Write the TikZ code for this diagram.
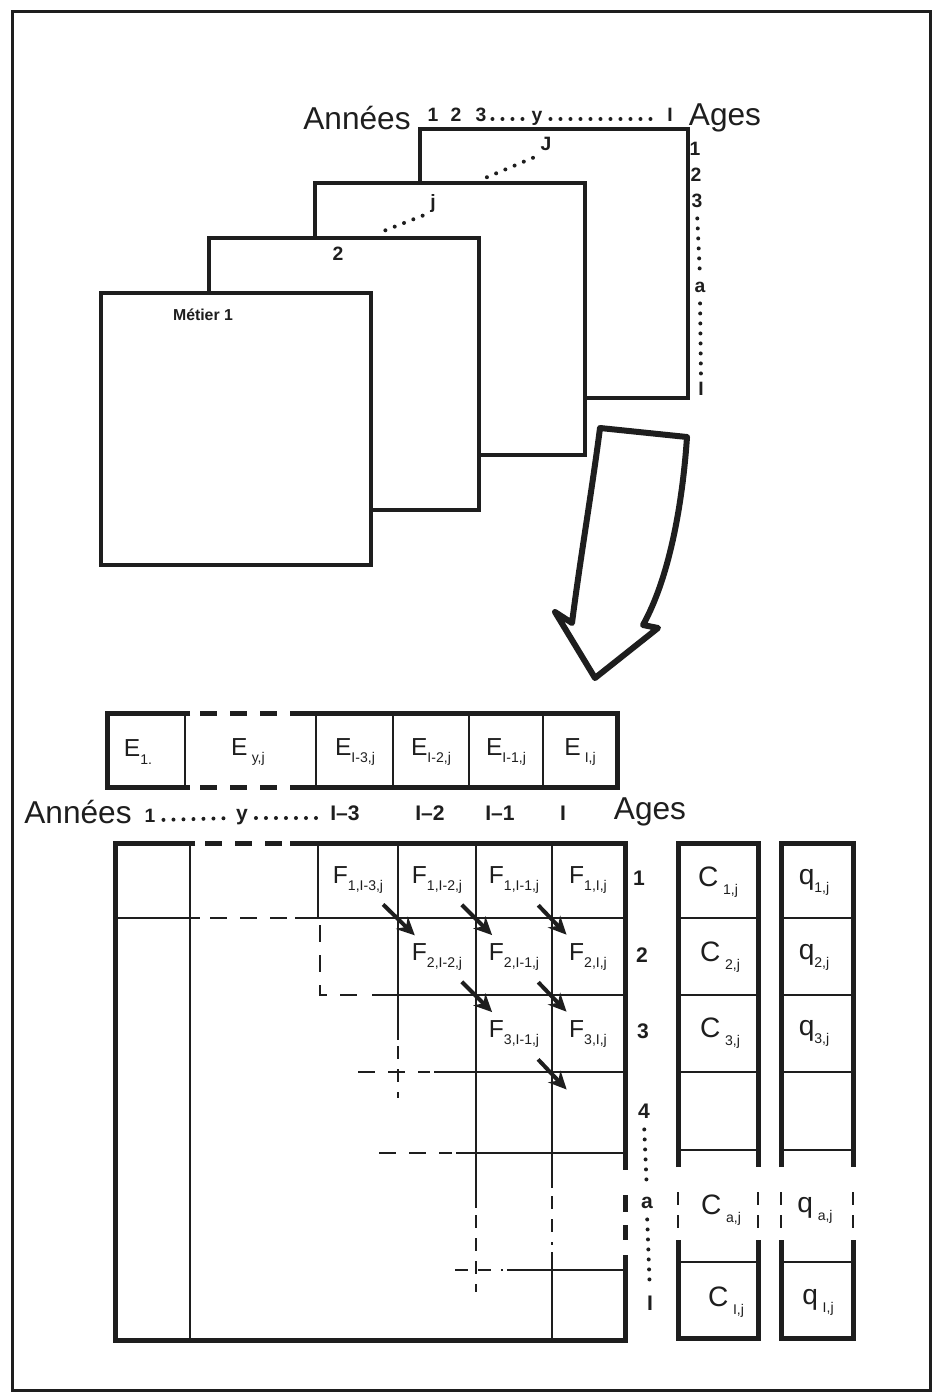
\documentclass[tikz,border=0pt]{standalone}
\usepackage{fontspec}
\setmainfont{Liberation Sans}
\usetikzlibrary{arrows.meta}
\definecolor{inkdark}{HTML}{1E1E1E}
\newcommand{\subidx}[1]{\raisebox{-0.55ex}{\fontsize{8}{8}\selectfont #1}}

\begin{document}
\begin{tikzpicture}[x=0.2mm, y=-0.2mm,
    framebox/.style={draw=inkdark, line width=0.6mm},
    sheet/.style={draw=inkdark, line width=0.65mm, fill=white},
    thickline/.style={draw=inkdark, line width=1mm},
    thinline/.style={draw=inkdark, line width=0.5mm},
    thickdash/.style={draw=inkdark, line width=1mm, dash pattern=on 3.4mm off 2.6mm},
    thindash/.style={draw=inkdark, line width=0.5mm, dash pattern=on 3.4mm off 2.6mm},
    shortdash/.style={draw=inkdark, line width=0.5mm, dash pattern=on 2.6mm off 2mm},
    dotline/.style={draw=inkdark, line width=0.8mm, line cap=round, dash pattern=on 0mm off 2mm,
                    shorten <=1.2mm, shorten >=1.2mm},
    big/.style={inner sep=0pt, text=inkdark, font=\fontsize{18}{20}\selectfont},
    num/.style={inner sep=1pt, text=inkdark, text height=1.5ex, text depth=0.3ex,
                font=\bfseries\fontsize{11}{13}\selectfont},
    numb/.style={inner sep=1pt, text=inkdark, text height=1.5ex, text depth=0.3ex,
                 font=\bfseries\fontsize{12}{14}\selectfont},
    cell/.style={inner sep=0pt, text=inkdark, font=\fontsize{14}{16}\selectfont},
    wide/.style={inner sep=0pt, text=inkdark, font=\fontsize{16}{18}\selectfont},
    flow/.style={draw=inkdark, line width=0.8mm, -{Stealth[length=3.6mm,width=3.4mm]},
                 shorten <=7mm, shorten >=6.2mm},
    bigarrow/.style={draw=inkdark, line width=1.2mm, line join=round, fill=white}]
  \useasboundingbox (0,0) rectangle (948,1395);
  \draw[framebox] (12,12) rectangle (930,1390);

  % stacked sheets
  \draw[sheet] (420,129) rectangle (688,398);
  \draw[sheet] (315,183) rectangle (585,455);
  \draw[sheet] (209,238) rectangle (479,510);
  \draw[sheet] (101,293) rectangle (371,565);
  \node[num, font=\bfseries\fontsize{9}{11}\selectfont] (met) at (203,315) {Métier 1};
  \node[num] (lab2) at (338,255) {2};
  \node[num] (labj) at (433,203) {j};
  \node[num] (labJ) at (546,145) {J};
  \coordinate (jend) at (376,234);
  \coordinate (Jend) at (478,181);
  \draw[dotline] (labj.south west) -- (jend);
  \draw[dotline] (labJ.south west) -- (Jend);

  \node[big] (anT) at (357,118) {Années};
  \node[num] (t1) at (433,116) {1};
  \node[num] (t2) at (456,116) {2};
  \node[num] (t3) at (481,116) {3};
  \node[num] (ty) at (537,116) {y};
  \node[num] (tI) at (670,116) {I};
  \node[big] (agT) at (725,118) {Ages};
  \draw[dotline, shorten <=0.8mm, shorten >=0.8mm] ([yshift=-0.6mm]t3.east) -- ([yshift=-0.6mm]ty.west);
  \draw[dotline] ([yshift=-0.6mm]ty.east) -- ([yshift=-0.6mm]tI.west);

  \node[num] (s1) at (695,150) {1};
  \node[num] (s2) at (696,176) {2};
  \node[num] (s3) at (697,202) {3};
  \node[num] (sa) at (700,287) {a};
  \node[num] (sI) at (701,390) {I};
  \draw[dotline] (s3.south) -- (sa.north);
  \draw[dotline] (sa.south) -- (sI.north);

  \draw[bigarrow] (600,428) -- (687,437) .. controls (682,510) and (668,580) .. (643,625)
    -- (658,628) -- (595,678) -- (555,612) -- (572,623)
    .. controls (580,560) and (592,490) .. (600,428) -- cycle;

  % effectifs row
  \draw[thickline] (190,713) -- (107,713) -- (107,787) -- (190,787);
  \draw[thickdash] (200,713) -- (285,713);
  \draw[thickdash] (200,787) -- (285,787);
  \draw[thickline] (290,713) -- (617,713) -- (617,787) -- (290,787);
  \foreach \xx in {185,316,393,469,543}
    \draw[thinline] (\xx,713) -- (\xx,787);
  \node[cell] (e1) at (138,752) {E\subidx{1.}};
  \node[cell] (ey) at (248,752) {E\,\subidx{y,j}};
  \node[cell] (eI3) at (355,752) {E\subidx{I-3,j}};
  \node[cell] (eI2) at (431,752) {E\subidx{I-2,j}};
  \node[cell] (eI1) at (506,752) {E\subidx{I-1,j}};
  \node[cell] (eI) at (580,752) {E\,\subidx{I,j}};

  \node[big] (anB) at (78,812) {Années};
  \node[num] (b1) at (150,817) {1};
  \node[numb] (by) at (242,815) {y};
  \node[numb] (bI3) at (345,815) {I–3};
  \node[numb] (bI2) at (430,815) {I–2};
  \node[numb] (bI1) at (500,815) {I–1};
  \node[numb] (bI) at (563,815) {I};
  \node[big] (agB) at (650,812) {Ages};
  \draw[dotline] ([yshift=-0.6mm]b1.east) -- ([yshift=-0.6mm]by.west);
  \draw[dotline] ([yshift=-0.6mm]by.east) -- ([yshift=-0.6mm]bI3.west);

  % flux matrix
  \draw[thickline] (195,843) -- (115,843) -- (115,1340) -- (625,1340) -- (625,1255);
  \draw[thickdash] (205,843) -- (285,843);
  \draw[thickline] (290,843) -- (625,843) -- (625,1170);
  \draw[thickdash] (625,1195) -- (625,1240);
  \draw[thinline] (190,843) -- (190,1340);
  \draw[thinline] (115,918) -- (200,918);
  \draw[thindash] (210,918) -- (290,918);
  \draw[thinline] (295,918) -- (625,918);
  \draw[thinline] (318,843) -- (318,918);
  \draw[thindash] (320,925) -- (320,995) -- (370,995);
  \draw[thinline] (372,995) -- (625,995);
  \draw[thinline] (398,843) -- (398,1040);
  \draw[shortdash] (398,1046) -- (398,1098);
  \draw[thindash] (358,1072) -- (430,1072);
  \draw[thinline] (434,1072) -- (625,1072);
  \draw[thinline] (476,843) -- (476,1208);
  \draw[shortdash] (476,1215) -- (476,1292);
  \draw[thindash] (379,1153) -- (452,1153);
  \draw[thinline] (456,1153) -- (625,1153);
  \draw[thinline] (552,843) -- (552,1188);
  \draw[shortdash] (552,1196) -- (552,1245);
  \draw[thinline] (552,1252) -- (552,1340);
  \draw[shortdash] (455,1270) -- (503,1270);
  \draw[thinline] (507,1270) -- (625,1270);

  \node[cell] (f11) at (358,880) {F\subidx{1,I-3,j}};
  \node[cell] (f12) at (437,880) {F\subidx{1,I-2,j}};
  \node[cell] (f13) at (514,880) {F\subidx{1,I-1,j}};
  \node[cell] (f14) at (588,880) {F\subidx{1,I,j}};
  \node[cell] (f22) at (437,957) {F\subidx{2,I-2,j}};
  \node[cell] (f23) at (514,957) {F\subidx{2,I-1,j}};
  \node[cell] (f24) at (588,957) {F\subidx{2,I,j}};
  \node[cell] (f33) at (514,1034) {F\subidx{3,I-1,j}};
  \node[cell] (f34) at (588,1034) {F\subidx{3,I,j}};
  \coordinate (f44) at (588,1112);
  \draw[flow] (f11.center) -- (f22.center);
  \draw[flow] (f12.center) -- (f23.center);
  \draw[flow] (f13.center) -- (f24.center);
  \draw[flow] (f22.center) -- (f33.center);
  \draw[flow] (f23.center) -- (f34.center);
  \draw[flow] (f33.center) -- (f44);

  \node[numb] (g1) at (639,880) {1};
  \node[numb] (g2) at (642,957) {2};
  \node[numb] (g3) at (643,1033) {3};
  \node[numb] (g4) at (644,1113) {4};
  \node[numb] (ga) at (647,1203) {a};
  \node[numb] (gI) at (650,1305) {I};
  \draw[dotline] (g4.south) -- (ga.north);
  \draw[dotline] (ga.south) -- (gI.north);

  % C and q columns
  \foreach \lft/\rgt in {678/758, 781/853} {
    \draw[thickline] (\lft,1167) -- (\lft,843) -- (\rgt,843) -- (\rgt,1167);
    \foreach \yy in {918,995,1072,1150}
      \draw[thinline] (\lft,\yy) -- (\rgt,\yy);
    \draw[shortdash] (\lft,1192) -- (\lft,1234);
    \draw[shortdash] (\rgt,1192) -- (\rgt,1234);
    \draw[thickline] (\lft,1240) -- (\lft,1338) -- (\rgt,1338) -- (\rgt,1240);
    \draw[thinline] (\lft,1262) -- (\rgt,1262);
  }
  \node[wide] (c1) at (718,882) {C\,\subidx{1,j}};
  \node[wide] (c2) at (720,957) {C\,\subidx{2,j}};
  \node[wide] (c3) at (720,1033) {C\,\subidx{3,j}};
  \node[wide] (ca) at (721,1210) {C\,\subidx{a,j}};
  \node[wide] (cI) at (726,1302) {C\,\subidx{I,j}};
  \node[wide] (q1) at (814,882) {q\subidx{1,j}};
  \node[wide] (q2) at (814,957) {q\subidx{2,j}};
  \node[wide] (q3) at (814,1033) {q\subidx{3,j}};
  \node[wide] (qa) at (815,1210) {q\,\subidx{a,j}};
  \node[wide] (qI) at (818,1302) {q\,\subidx{I,j}};
\end{tikzpicture}
\end{document}
